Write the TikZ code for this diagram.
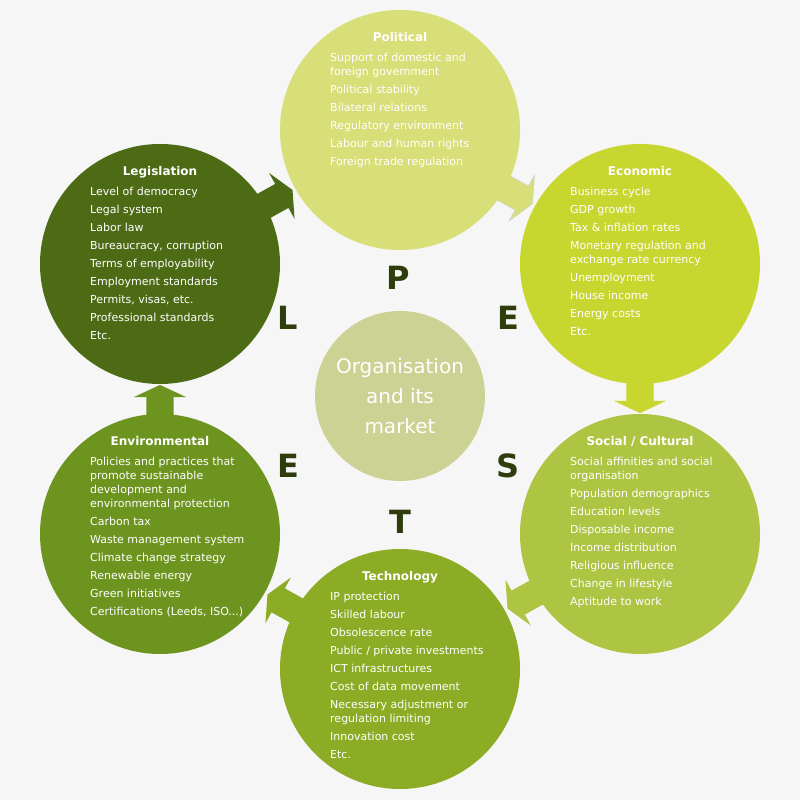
\documentclass[tikz,border=0pt]{standalone}
\usepackage{fontspec}
\setmainfont{DejaVu Sans}
\usepackage{tikz}
\usetikzlibrary{shapes.arrows,calc,backgrounds}
\definecolor{polc}{HTML}{D8DE78}
\definecolor{ecoc}{HTML}{C8D630}
\definecolor{socc}{HTML}{ADC543}
\definecolor{tecc}{HTML}{8CAC25}
\definecolor{envc}{HTML}{6E9420}
\definecolor{legc}{HTML}{4D6B15}
\definecolor{orgc}{HTML}{CCD194}
\definecolor{letc}{HTML}{2F3D0C}
\definecolor{bgc}{HTML}{F6F6F6}
\tikzset{
  disc/.style    = {circle, fill=#1, minimum size=240pt, inner sep=0pt},
  hub/.style     = {circle, fill=orgc, minimum size=170pt, inner sep=0pt,
                    text=white, align=center, font=\fontsize{20}{30}\selectfont},
  hdr/.style     = {anchor=base, inner sep=0pt, text=white,
                    font=\bfseries\fontsize{12}{14}\selectfont},
  items/.style   = {anchor=north west, inner sep=0pt, text=white, align=left,
                    font=\fontsize{11}{14}\selectfont},
  bigletter/.style = {inner sep=0pt, text=letc,
                    font=\bfseries\fontsize{32}{32}\selectfont},
  flowarr/.style = {single arrow, fill=#1, inner xsep=0pt, inner ysep=13.5pt,
                    anchor=tip, minimum height=40pt, minimum width=52pt,
                    single arrow head extend=12.5pt, single arrow tip angle=130},
}
\newcommand{\pestbox}[3]{%              % #1 = circle, #2 = heading, #3 = items
  \node[hdr] (#1-h) at ($(#1.center)+(0,88)$) {#2};
  \node[items] (#1-i) at ($(#1.center)+(-70,77)$) {#3};}

\begin{document}
\begin{tikzpicture}[x=1pt,y=1pt]
  \useasboundingbox (0,0) rectangle (800,800);
  % the six factors and the hub
  \node[disc=polc] (pol)  at (400,670) {};
  \node[disc=ecoc] (eco)  at (640,536) {};
  \node[disc=socc] (soc)  at (640,266) {};
  \node[disc=tecc] (tech) at (400,131) {};
  \node[disc=envc] (env)  at (160,266) {};
  \node[disc=legc] (leg)  at (160,536) {};
  \node[hub] (org) at (400,404) {Organisation\\and its\\market};

  \pestbox{pol}{Political}{Support of domestic and\\foreign government\\[4pt]
    Political stability\\[4pt] Bilateral relations\\[4pt]
    Regulatory environment\\[4pt] Labour and human rights\\[4pt]
    Foreign trade regulation}
  \pestbox{eco}{Economic}{Business cycle\\[4pt] GDP growth\\[4pt]
    Tax \& inflation rates\\[4pt] Monetary regulation and\\exchange rate currency\\[4pt]
    Unemployment\\[4pt] House income\\[4pt] Energy costs\\[4pt] Etc.}
  \pestbox{soc}{Social / Cultural}{Social affinities and social\\organisation\\[4pt]
    Population demographics\\[4pt] Education levels\\[4pt]
    Disposable income\\[4pt] Income distribution\\[4pt]
    Religious influence\\[4pt] Change in lifestyle\\[4pt] Aptitude to work}
  \pestbox{tech}{Technology}{IP protection\\[4pt] Skilled labour\\[4pt]
    Obsolescence rate\\[4pt] Public / private investments\\[4pt]
    ICT infrastructures\\[4pt] Cost of data movement\\[4pt]
    Necessary adjustment or\\regulation limiting\\[4pt] Innovation cost\\[4pt] Etc.}
  \pestbox{env}{Environmental}{Policies and practices that\\promote sustainable\\
    development and\\environmental protection\\[4pt] Carbon tax\\[4pt]
    Waste management system\\[4pt] Climate change strategy\\[4pt]
    Renewable energy\\[4pt] Green initiatives\\[4pt] Certifications (Leeds, ISO...)}
  \pestbox{leg}{Legislation}{Level of democracy\\[4pt] Legal system\\[4pt]
    Labor law\\[4pt] Bureaucracy, corruption\\[4pt] Terms of employability\\[4pt]
    Employment standards\\[4pt] Permits, visas, etc.\\[4pt]
    Professional standards\\[4pt] Etc.}

  % PESTLE letters round the hub
  \node[bigletter] (lp)   at (398,522) {P};
  \node[bigletter] (le)   at (508,482) {E};
  \node[bigletter] (ls)   at (508,334) {S};
  \node[bigletter] (lt)   at (400,278) {T};
  \node[bigletter] (lenv) at (288,334) {E};
  \node[bigletter] (ll)   at (288,482) {L};

  \begin{scope}[on background layer]
    \fill[bgc] (0,0) rectangle (800,800);
    \node[flowarr=legc, rotate=29]  at ($(leg)!0.553!(pol)$) {};
    \node[flowarr=polc, rotate=-29, draw=black!18, line width=0.5pt]
      at ($(pol)!0.553!(eco)$) {};
    \node[flowarr=ecoc, rotate=-90] at ($(eco)!0.553!(soc)$) {};
    \node[flowarr=socc, rotate=-151] at ($(soc)!0.553!(tech)$) {};
    \node[flowarr=tecc, rotate=151] at ($(tech)!0.553!(env)$) {};
    \node[flowarr=envc, rotate=90]  at ($(env)!0.553!(leg)$) {};
  \end{scope}
\end{tikzpicture}
\end{document}
